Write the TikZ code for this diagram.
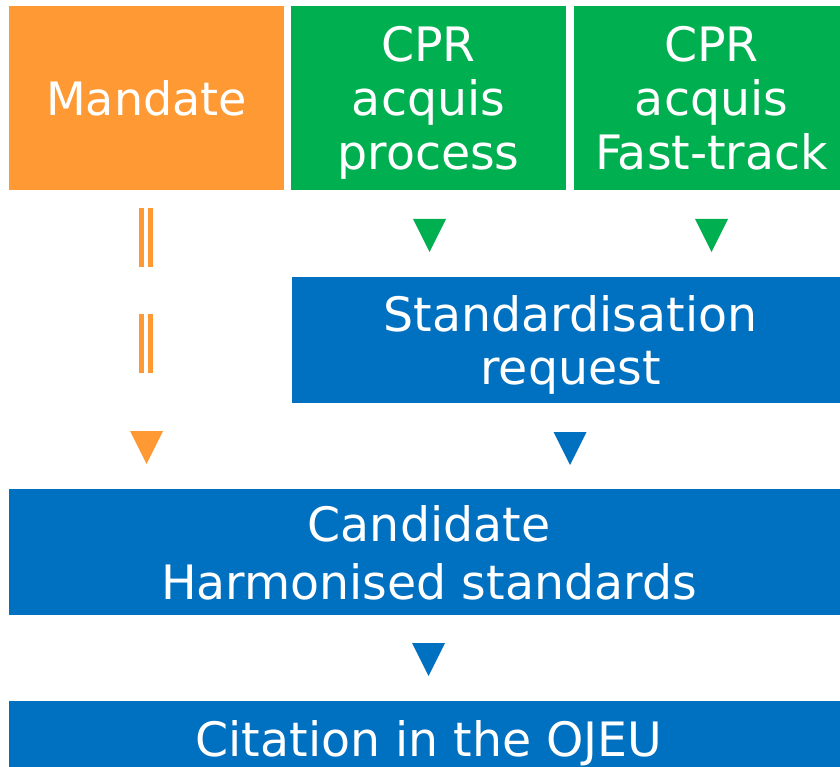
\documentclass[tikz,border=0pt]{standalone}
\usepackage{fontspec}
\setmainfont{DejaVu Sans}
\definecolor{mandor}{HTML}{FF9933}
\definecolor{cprgreen}{HTML}{00B050}
\definecolor{srblue}{HTML}{0070C0}
\newcommand\downtri[3]{\fill[#1] (#2-16.5,#3) -- (#2+16.5,#3) -- (#2,#3+33) -- cycle;}
\begin{document}
\begin{tikzpicture}[x=1pt,y=-1pt,
  blk/.style={inner sep=0pt, text=white, align=center, anchor=center,
    font=\fontsize{47.4}{54}\selectfont, text depth=0pt},
  topbox/.style={blk, minimum width=275pt, minimum height=184pt},
  bar/.style={draw=mandor, line width=4.6pt}]
\useasboundingbox (0,0) rectangle (840,767);
\fill[white] (0,0) rectangle (840,767);
% boxes
\node[topbox, fill=mandor, font=\fontsize{46}{54}\selectfont] (mandate) at (146.5,98) {Mandate};
\node[topbox, fill=cprgreen] (cpr1) at (428.5,98) {CPR\\acquis\\process};
\node[topbox, fill=cprgreen] (cpr2) at (711.5,98) {CPR\\acquis\\Fast-track};
\node[blk, fill=srblue, minimum width=557pt, minimum height=126pt,
  font=\fontsize{47.4}{52.5}\selectfont] (sr) at (570.5,340) {Standardisation\\request};
\node[blk, fill=srblue, minimum width=840pt, minimum height=126pt,
  font=\fontsize{47.4}{58}\selectfont] (cand) at (429,552) {Candidate\\Harmonised standards};
\node[blk, fill=srblue, minimum width=840pt, minimum height=74pt] (cit) at (429,738) {Citation in the OJEU};
% connectors
\draw[bar] (141.6,208) -- (141.6,267);
\draw[bar] (150.6,208) -- (150.6,267);
\draw[bar] (141.6,314) -- (141.6,373);
\draw[bar] (150.6,314) -- (150.6,373);
\downtri{mandor}{146.5}{431}
\downtri{cprgreen}{429.5}{219}
\downtri{cprgreen}{711.5}{219}
\downtri{srblue}{570}{432}
\downtri{srblue}{428.5}{643}
\end{tikzpicture}
\end{document}
